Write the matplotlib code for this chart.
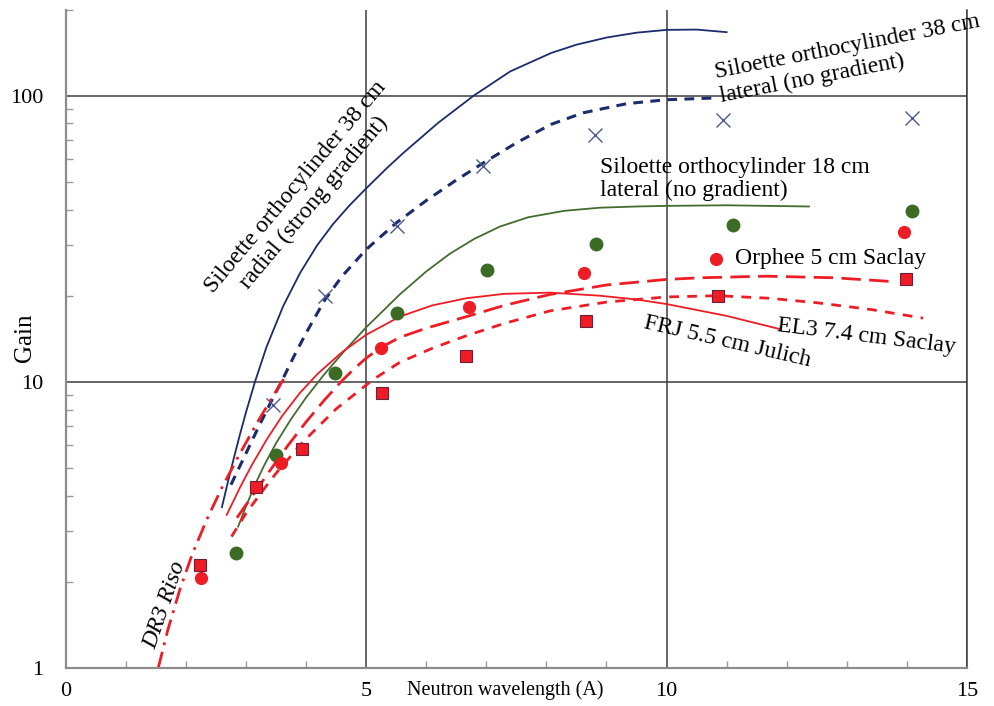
import matplotlib
matplotlib.use('Agg')
import matplotlib.pyplot as plt
from matplotlib.ticker import MultipleLocator, LogLocator, NullFormatter

plt.rcParams['font.family'] = ['Liberation Serif', 'DejaVu Serif']

# --- data (wavelength in A, gain) ---
# calculated curves
rad38_x = [2.60, 2.70, 2.80, 2.90, 3.00, 3.15, 3.34, 3.62, 3.90, 4.18, 4.45, 4.73, 5.00, 5.34, 5.62,
           6.20, 6.79, 7.40, 8.08, 8.50, 9.00, 9.50, 10.00, 10.50, 11.00]
rad38_y = [3.65, 4.47, 5.43, 6.55, 7.82, 10.0, 13.2, 18.4, 24.0, 29.9, 35.6, 41.5, 47.4, 55.7, 63.1,
           80.4, 100.0, 121.6, 141.0, 150.7, 159.6, 166.0, 169.8, 170.2, 166.7]

lat38_x = [2.75, 3.00, 3.20, 3.44, 3.60, 3.80, 4.00, 4.31, 4.60, 5.00, 5.50, 6.00, 6.50, 6.95,
           7.50, 8.08, 8.61, 9.34, 10.00, 10.82]
lat38_y = [4.37, 5.62, 6.89, 8.71, 10.1, 12.3, 14.8, 19.3, 23.4, 29.0, 35.9, 43.0, 50.7, 58.2,
           68.4, 79.4, 87.1, 93.8, 96.8, 98.2]

lat18_x = [2.87, 3.00, 3.15, 3.30, 3.50, 3.75, 4.00, 4.30, 4.65, 5.00, 5.56, 6.00, 6.39, 6.80,
           7.23, 7.70, 8.30, 8.89, 9.50, 10.00, 11.00, 12.37]
lat18_y = [3.12, 3.67, 4.37, 5.09, 6.10, 7.41, 8.81, 10.6, 12.9, 15.5, 20.2, 24.3, 28.0, 31.6,
           34.9, 37.6, 39.6, 40.6, 41.0, 41.2, 41.4, 41.0]

frj_x = [2.68, 2.90, 3.10, 3.35, 3.60, 3.90, 4.20, 4.60, 5.00, 5.56, 6.10, 6.67, 7.30, 8.06,
         8.89, 9.50, 10.00, 11.00, 11.88]
frj_y = [3.43, 4.27, 5.13, 6.31, 7.59, 9.16, 10.7, 12.7, 14.6, 16.9, 18.5, 19.6, 20.3, 20.5,
         20.0, 19.4, 18.7, 17.0, 15.3]

orphee_x = [2.85, 3.10, 3.40, 3.70, 4.00, 4.30, 4.60, 4.80, 5.00, 5.25, 5.56, 6.00, 6.67, 7.30,
            8.06, 9.00, 10.00, 10.55, 11.66, 12.80, 13.77]
orphee_y = [3.35, 3.98, 4.90, 6.00, 7.24, 8.61, 10.1, 11.1, 12.1, 13.2, 14.3, 15.4, 16.9, 18.5,
            20.2, 21.8, 22.8, 23.1, 23.4, 23.1, 22.4]

el3_x = [2.76, 3.00, 3.25, 3.50, 3.95, 4.50, 5.12, 5.56, 6.10, 6.67, 7.30, 8.06, 9.00, 10.00,
         10.85, 11.70, 12.50, 13.40, 14.27]
el3_y = [2.88, 3.47, 4.09, 4.79, 6.17, 8.04, 10.2, 11.7, 13.1, 14.5, 16.0, 17.7, 19.0, 19.8,
         20.0, 19.6, 18.9, 17.9, 16.7]

dr3_x = [1.54, 1.70, 1.90, 2.10, 2.35, 2.60, 2.90, 3.20, 3.45, 3.65]
dr3_y = [1.00, 1.36, 1.88, 2.48, 3.31, 4.27, 5.62, 7.28, 8.91, 10.4]

# measured points
cross_x = [3.45, 4.31, 5.51, 6.95, 8.81, 10.94, 14.08]
cross_y = [8.31, 19.9, 35.1, 56.6, 73.1, 82.0, 83.6]

green_x = [2.83, 3.50, 4.48, 5.51, 7.02, 8.82, 11.10, 14.09]
green_y = [2.52, 5.56, 10.7, 17.4, 24.5, 30.3, 35.2, 39.6]

reddot_x = [2.26, 3.59, 5.25, 6.71, 8.63, 10.83, 13.95]
reddot_y = [2.06, 5.20, 13.1, 18.2, 24.1, 26.9, 33.4]

square_x = [2.23, 3.16, 3.93, 5.26, 6.67, 8.66, 10.85, 13.98]
square_y = [2.29, 4.28, 5.83, 9.13, 12.3, 16.3, 20.0, 22.9]

navy = '#1c2b6b'
green = '#456b2e'
red = '#ee1c25'

fig = plt.figure(figsize=(9.94, 7.06), dpi=100)
ax = fig.add_axes([0.0661, 0.0538, 0.9067, 0.9327])
ax.set_xlim(0, 15)
ax.set_yscale('log')
ax.set_ylim(1, 200)

# curves
ax.plot(rad38_x, rad38_y, color=navy, lw=1.3)
ax.plot(lat38_x, lat38_y, color=navy, lw=2.2, dashes=(3.2, 2.4))
ax.plot(lat18_x, lat18_y, color=green, lw=1.3)
ax.plot(frj_x, frj_y, color=red, lw=1.3)
ax.plot(orphee_x, orphee_y, color=red, lw=2.0, dashes=(7, 3))
ax.plot(el3_x, el3_y, color=red, lw=2.0, dashes=(3.5, 3))
ax.plot(dr3_x, dr3_y, color=red, lw=2.0, dashes=(6, 2.5, 1, 2.5))

# markers
ax.plot(cross_x, cross_y, ls='none', marker='x', ms=10, mew=1.0, color='#4b5b8f')
ax.plot(green_x, green_y, ls='none', marker='o', ms=9, color='#3b6b24')
ax.plot(reddot_x, reddot_y, ls='none', marker='o', ms=8.5, color=red)
ax.plot(square_x, square_y, ls='none', marker='s', ms=8.5, mfc=red, mec='#6a1f3c', mew=0.8)

# labels on the chart
tsize = 17
ax.text(3.98, 45.1, 'Siloette orthocylinder 38 cm\nradial (strong gradient)', rotation=50,
        ha='center', va='center', rotation_mode='anchor', multialignment='center', fontsize=tsize)
ax.text(10.92, 91.6, 'Siloette orthocylinder 38 cm\nlateral (no gradient)', rotation=11,
        ha='left', va='bottom', rotation_mode='anchor', multialignment='left', fontsize=tsize)
ax.text(8.90, 61.2, 'Siloette orthocylinder 18 cm\nlateral (no gradient)',
        ha='left', va='top', fontsize=tsize, linespacing=1.15)
ax.text(11.14, 26.9, 'Orphee 5 cm Saclay', ha='left', va='center', fontsize=tsize)
ax.text(13.32, 14.4, 'EL3 7.4 cm Saclay', rotation=-7, ha='center', va='center',
        rotation_mode='anchor', fontsize=tsize)
ax.text(11.02, 13.8, 'FRJ 5.5 cm Julich', rotation=-13, ha='center', va='center',
        rotation_mode='anchor', fontsize=tsize)
ax.text(1.65, 1.66, 'DR3 Riso', rotation=71, ha='center', va='center',
        rotation_mode='anchor', fontsize=tsize, style='italic')

# axes styling
ax.set_xticks([0, 5, 10, 15])
ax.set_xticklabels(['0', '5', '10', '15'])
ax.set_yticks([1, 10, 100])
ax.set_yticklabels(['1', '10', '100'])
ax.xaxis.set_minor_locator(MultipleLocator(1))
ax.yaxis.set_minor_locator(LogLocator(subs=[2, 3, 4, 5, 6, 7, 8, 9]))
ax.yaxis.set_minor_formatter(NullFormatter())
ax.tick_params(which='major', length=0, labelsize=16)
ax.tick_params(axis='x', which='major', pad=10)
ax.tick_params(axis='y', which='major', pad=16)
ax.tick_params(which='minor', direction='in', length=5, width=1, color='#999999')

ax.set_axisbelow(True)
ax.grid(which='major', color='#3c3c3c', lw=1.1)
ax.spines['top'].set_visible(False)
ax.spines['right'].set_color('#3c3c3c')
ax.spines['right'].set_linewidth(1.1)
for s in ['left', 'bottom']:
    ax.spines[s].set_color('#8c8c8c')
    ax.spines[s].set_linewidth(1.6)

fig.text(505 / 994, 1 - 690 / 706, 'Neutron wavelength (A)', ha='center', va='center', fontsize=14.5)
fig.text(25 / 994, 1 - 338 / 706, 'Gain', rotation=90, ha='center', va='center', fontsize=18)

fig.savefig('out.png', dpi=100)
